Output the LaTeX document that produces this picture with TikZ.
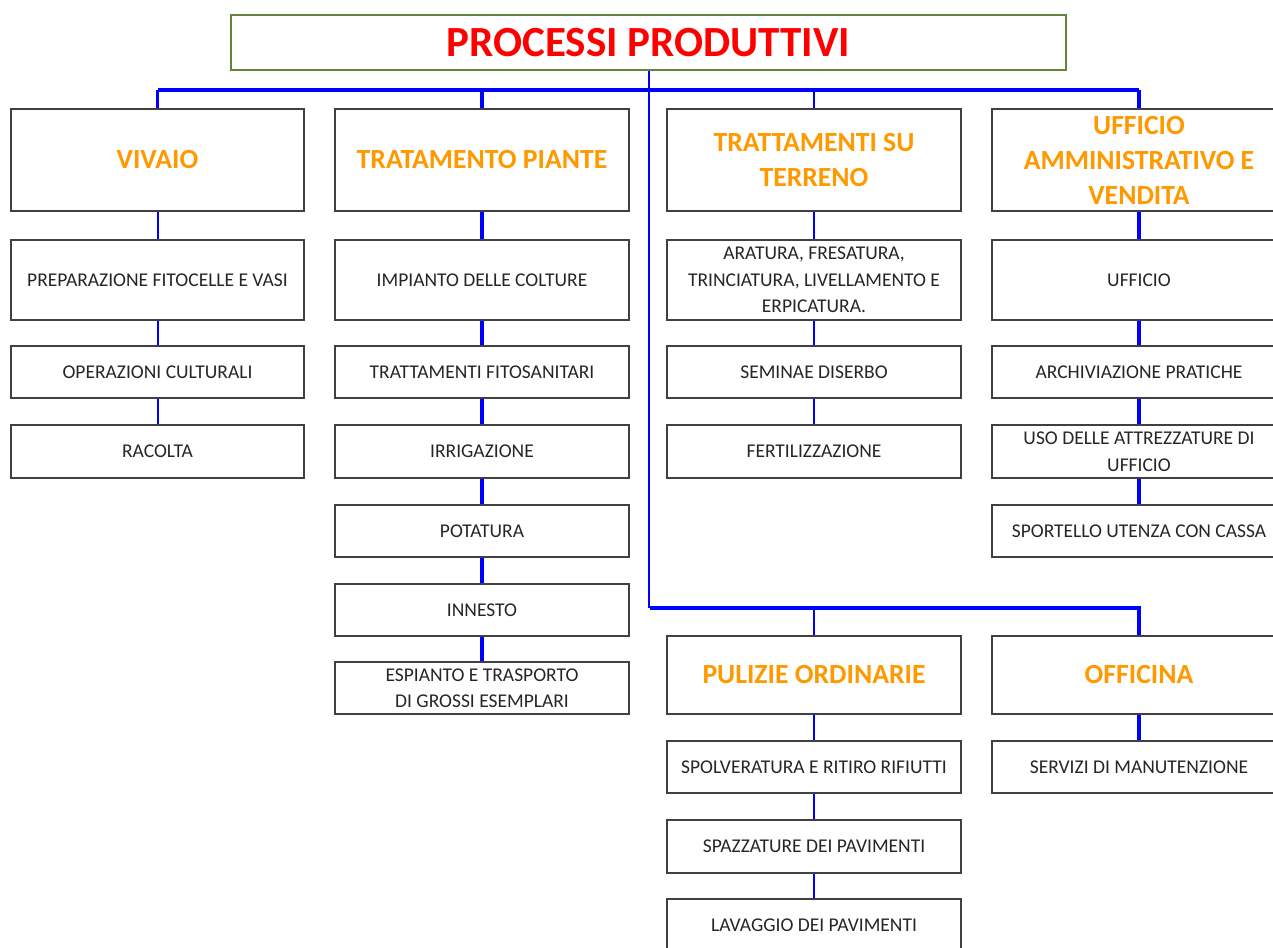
\documentclass[tikz,border=0pt]{standalone}
\usepackage{fontspec}
\setmainfont{Carlito}
\definecolor{orng}{RGB}{255,153,0}
\definecolor{ttl}{RGB}{255,0,0}
\definecolor{grn}{RGB}{100,132,60}
\definecolor{cblue}{RGB}{0,0,255}
\newcommand\bx[7]{\node[#6, minimum width={#4-#2}, minimum height={#5-#3}] (#1) at ({(#2+#4)/2},{(#3+#5)/2}) {#7};}
\begin{document}
\begin{tikzpicture}[x=1pt,y=-1pt,
  box/.style={draw=black!75, line width=1.5pt, inner sep=0pt, align=center, fill=white},
  head/.style={box, text=orng, font=\fontsize{27.7}{35}\selectfont\bfseries},
  item/.style={box, text=black!85, font=\fontsize{19.5}{26.5}\selectfont},
  titlebox/.style={draw=grn, line width=2.5pt, inner sep=0pt, text=ttl, font=\fontsize{43}{47}\selectfont\bfseries},
  thin/.style={draw=cblue, line width=2pt},
  thick/.style={draw=cblue, line width=3.5pt},
  bar/.style={draw=cblue, line width=4.5pt}]
\useasboundingbox (0,0) rectangle (1273,947);
\clip (0,0) rectangle (1273,947);
% title
\bx{title}{231}{15}{1066}{70}{titlebox}{PROCESSI PRODUTTIVI}
% headers
\bx{h1}{11}{109}{304}{211}{head}{VIVAIO}
\bx{h2}{335}{109}{629}{211}{head}{TRATAMENTO PIANTE}
\bx{h3}{667}{109}{961}{211}{head}{TRATTAMENTI SU\\TERRENO}
\bx{h4}{992}{109}{1286}{211}{head}{UFFICIO\\AMMINISTRATIVO E\\VENDITA}
% column 1
\bx{a1}{11}{240}{304}{320}{item}{PREPARAZIONE FITOCELLE E VASI}
\bx{a2}{11}{346}{304}{398}{item}{OPERAZIONI CULTURALI}
\bx{a3}{11}{425}{304}{478}{item}{RACOLTA}
% column 2
\bx{b1}{335}{240}{629}{320}{item}{IMPIANTO DELLE COLTURE}
\bx{b2}{335}{346}{629}{398}{item}{TRATTAMENTI FITOSANITARI}
\bx{b3}{335}{425}{629}{478}{item}{IRRIGAZIONE}
\bx{b4}{335}{505}{629}{557}{item}{POTATURA}
\bx{b5}{335}{584}{629}{636}{item}{INNESTO}
\bx{b6}{335}{662}{629}{714}{item}{ESPIANTO E TRASPORTO\\DI GROSSI ESEMPLARI}
% column 3
\bx{c1}{667}{240}{961}{320}{item}{ARATURA, FRESATURA,\\TRINCIATURA, LIVELLAMENTO E\\ERPICATURA.}
\bx{c2}{667}{346}{961}{398}{item}{SEMINAE DISERBO}
\bx{c3}{667}{425}{961}{478}{item}{FERTILIZZAZIONE}
% column 4
\bx{d1}{992}{240}{1286}{320}{item}{UFFICIO}
\bx{d2}{992}{346}{1286}{398}{item}{ARCHIVIAZIONE PRATICHE}
\bx{d3}{992}{425}{1286}{478}{item}{USO DELLE ATTREZZATURE DI\\UFFICIO}
\bx{d4}{992}{505}{1286}{557}{item}{SPORTELLO UTENZA CON CASSA}
% lower group
\bx{p0}{667}{636}{961}{714}{head}{PULIZIE ORDINARIE}
\bx{p1}{667}{741}{961}{793}{item}{SPOLVERATURA E RITIRO RIFIUTTI}
\bx{p2}{667}{820}{961}{873}{item}{SPAZZATURE DEI PAVIMENTI}
\bx{p3}{667}{899}{961}{951}{item}{LAVAGGIO DEI PAVIMENTI}
\bx{o0}{992}{636}{1286}{714}{head}{OFFICINA}
\bx{o1}{992}{741}{1286}{793}{item}{SERVIZI DI MANUTENZIONE}
% connectors
\coordinate (tb) at (650,90);
\coordinate (lb) at (650,608);
\draw[thin] (title.south) -- (title.south |- lb);
\draw[bar] (h1.north |- tb) -- (h4.north |- tb);
\draw[thick] (h1.north |- tb) -- (h1.north);
\draw[thick] (h2.north |- tb) -- (h2.north);
\draw[thin] (h3.north |- tb) -- (h3.north);
\draw[thick] (h4.north |- tb) -- (h4.north);
\draw[bar] (lb) -- (o0.north |- lb) -- (o0.north);
\draw[thin] (p0.north |- lb) -- (p0.north);
\draw[thin] (h1) -- (a1) (a1) -- (a2) (a2) -- (a3);
\draw[thick] (h2) -- (b1) (b1) -- (b2) (b2) -- (b3) (b3) -- (b4) (b4) -- (b5) (b5) -- (b6);
\draw[thin] (h3) -- (c1) (c1) -- (c2) (c2) -- (c3);
\draw[thick] (h4) -- (d1) (d1) -- (d2) (d2) -- (d3) (d3) -- (d4);
\draw[thin] (p0) -- (p1) (p1) -- (p2) (p2) -- (p3);
\draw[thick] (o0) -- (o1);
\end{tikzpicture}
\end{document}
